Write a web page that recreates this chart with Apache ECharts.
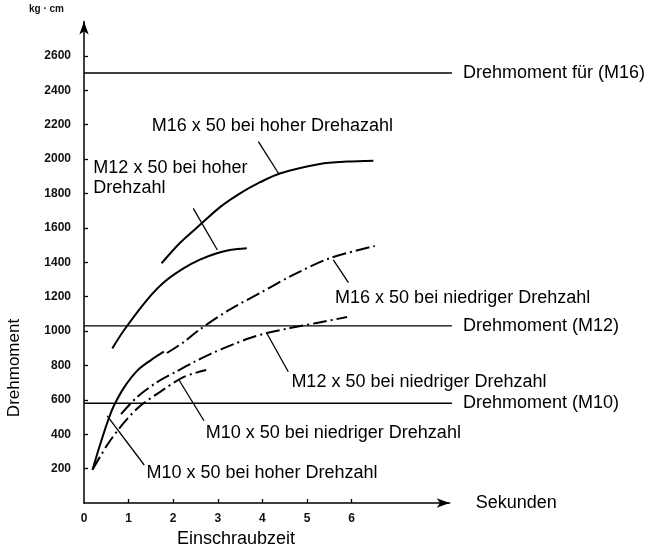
<!DOCTYPE html>
<html>
<head>
<meta charset="utf-8">
<script src="https://cdn.jsdelivr.net/npm/echarts@6/dist/echarts.min.js"></script>
<style>
html,body{margin:0;padding:0;background:#fff;}
#chart{width:656px;height:553px;}
</style>
</head>
<body>
<div id="chart"></div>
<script>
// ---- data (time in s, torque in kg·cm) ----
const yTickValues = [200,400,600,800,1000,1200,1400,1600,1800,2000,2200,2400,2600];
const xTickValues = [0,1,2,3,4,5,6];

const m16High = [[1.74,1394],[2.15,1512],[2.64,1626],[3.05,1720],[3.50,1800],[3.95,1865],[4.39,1916],[5.29,1971],[5.90,1985],[6.49,1990]];
const m12High = [[0.635,899],[0.90,1006],[1.41,1180],[1.80,1285],[2.23,1364],[2.60,1415],[2.98,1452],[3.30,1472],[3.65,1481]];
const m10High = [[0.19,192],[0.37,347],[0.56,495],[0.67,565],[0.90,672],[1.20,771],[1.50,831],[1.79,880]];
const m16Low  = [[1.86,872],[2.24,936],[2.60,1010],[3.27,1125],[3.95,1221],[4.69,1326],[5.52,1424],[6.52,1494]];
const m12Low  = [[0.83,517],[1.19,616],[1.64,703],[2.09,767],[2.47,820],[2.83,866],[3.36,924],[3.72,959],[4.10,988],[4.62,1017],[5.22,1047],[5.90,1081]];
const m10Low  = [[0.20,198],[0.52,337],[0.85,453],[1.23,558],[1.70,645],[2.24,733],[2.74,773]];

const refM16 = 2500, refM12 = 1030, refM10 = 580;
const refEnd = 8.25;
const refLabels = ['Drehmoment für (M16)','Drehmoment (M12)','Drehmoment (M10)'];

const curveLabels = [
  [1.52, 2192, 'M16 x 50 bei hoher Drehazahl'],
  [0.21, 1890, 'M12 x 50 bei hoher\nDrehzahl'],
  [5.63, 1192, 'M16 x 50 bei niedriger Drehzahl'],
  [4.65, 705,  'M12 x 50 bei niedriger Drehzahl'],
  [2.73, 405,  'M10 x 50 bei niedriger Drehzahl'],
  [1.40, 174,  'M10 x 50 bei hoher Drehzahl']
];
const leaders = [
  [[3.91,2101],[4.36,1917]],
  [[2.45,1713],[2.99,1471]],
  [[5.59,1413],[5.93,1281]],
  [[4.10,987],[4.58,763]],
  [[2.13,715],[2.69,478]],
  [[0.52,506],[1.35,221]]
];

const FONT = '"Liberation Sans", Arial, sans-serif';
const chart = echarts.init(document.getElementById('chart'));

const dashDot = [14,4,2,4];
function curve(data, dashed){
  return {type:'line', data, smooth:0.3, symbol:'none', silent:true,
    lineStyle:{color:'#000', width:2, type: dashed ? dashDot : 'solid'}};
}
function refLine(v, label){
  return {type:'line', data:[[0,v],[refEnd,v]], symbol:'none', clip:false, silent:true,
    lineStyle:{color:'#000', width:1.4},
    endLabel:{show:true, formatter:label, distance:11, color:'#000', fontFamily:FONT, fontSize:18}};
}
const series = [
  curve(m16High,false), curve(m12High,false), curve(m10High,false),
  curve(m16Low,true), curve(m12Low,true), curve(m10Low,true),
  refLine(refM16, refLabels[0]), refLine(refM12, refLabels[1]), refLine(refM10, refLabels[2])
];
leaders.forEach(l => series.push({type:'line', data:l, symbol:'none', silent:true,
  lineStyle:{color:'#000', width:1.3}}));
series.push({type:'scatter', data:curveLabels, symbolSize:0, silent:true,
  itemStyle:{color:'#000', opacity:1},
  label:{show:true, position:[0,0], align:'left', verticalAlign:'middle',
    formatter:p=>p.data[2], color:'#000', opacity:1, textBorderWidth:0,
    fontFamily:FONT, fontSize:18, lineHeight:20}});

chart.setOption({
  animation:false,
  backgroundColor:'#fff',
  grid:{left:84, right:206.3, top:21.4, bottom:50},
  xAxis:{type:'value', min:0, max:8.2, interval:1,
    axisLine:{show:true, symbol:['none','arrow'], symbolSize:[7,13], lineStyle:{color:'#000', width:1.5}},
    axisTick:{show:true, inside:true, length:4, customValues:[1,2,3,4,5,6], lineStyle:{color:'#000', width:1.3}},
    axisLabel:{customValues:xTickValues, formatter:v=>String(v), margin:10, color:'#111', fontFamily:FONT, fontSize:12, fontWeight:'bold'},
    splitLine:{show:false},
    name:'Sekunden', nameLocation:'end', nameGap:26,
    nameTextStyle:{color:'#000', fontFamily:FONT, fontSize:18, padding:[14,0,0,0]}
  },
  yAxis:{type:'value', min:0, max:2800, interval:200,
    axisLine:{show:true, symbol:['none','arrow'], symbolSize:[7,13], lineStyle:{color:'#000', width:1.5}},
    axisTick:{show:true, inside:true, length:4, customValues:yTickValues, lineStyle:{color:'#000', width:1.3}},
    axisLabel:{customValues:yTickValues, formatter:v=>String(v), margin:13, color:'#111', fontFamily:FONT, fontSize:12, fontWeight:'bold'},
    splitLine:{show:false}
  },
  graphic:[
    {type:'text', left:29, top:4, style:{text:'kg · cm', font:'bold 10px '+FONT, fill:'#111'}},
    {type:'text', x:14.5, y:368, rotation:Math.PI/2, style:{text:'Drehmoment', font:'17px '+FONT, fill:'#000', align:'center', verticalAlign:'middle'}},
    {type:'text', x:236, y:539, style:{text:'Einschraubzeit', font:'18px '+FONT, fill:'#000', align:'center', verticalAlign:'middle'}}
  ],
  series
});
</script>
</body>
</html>
